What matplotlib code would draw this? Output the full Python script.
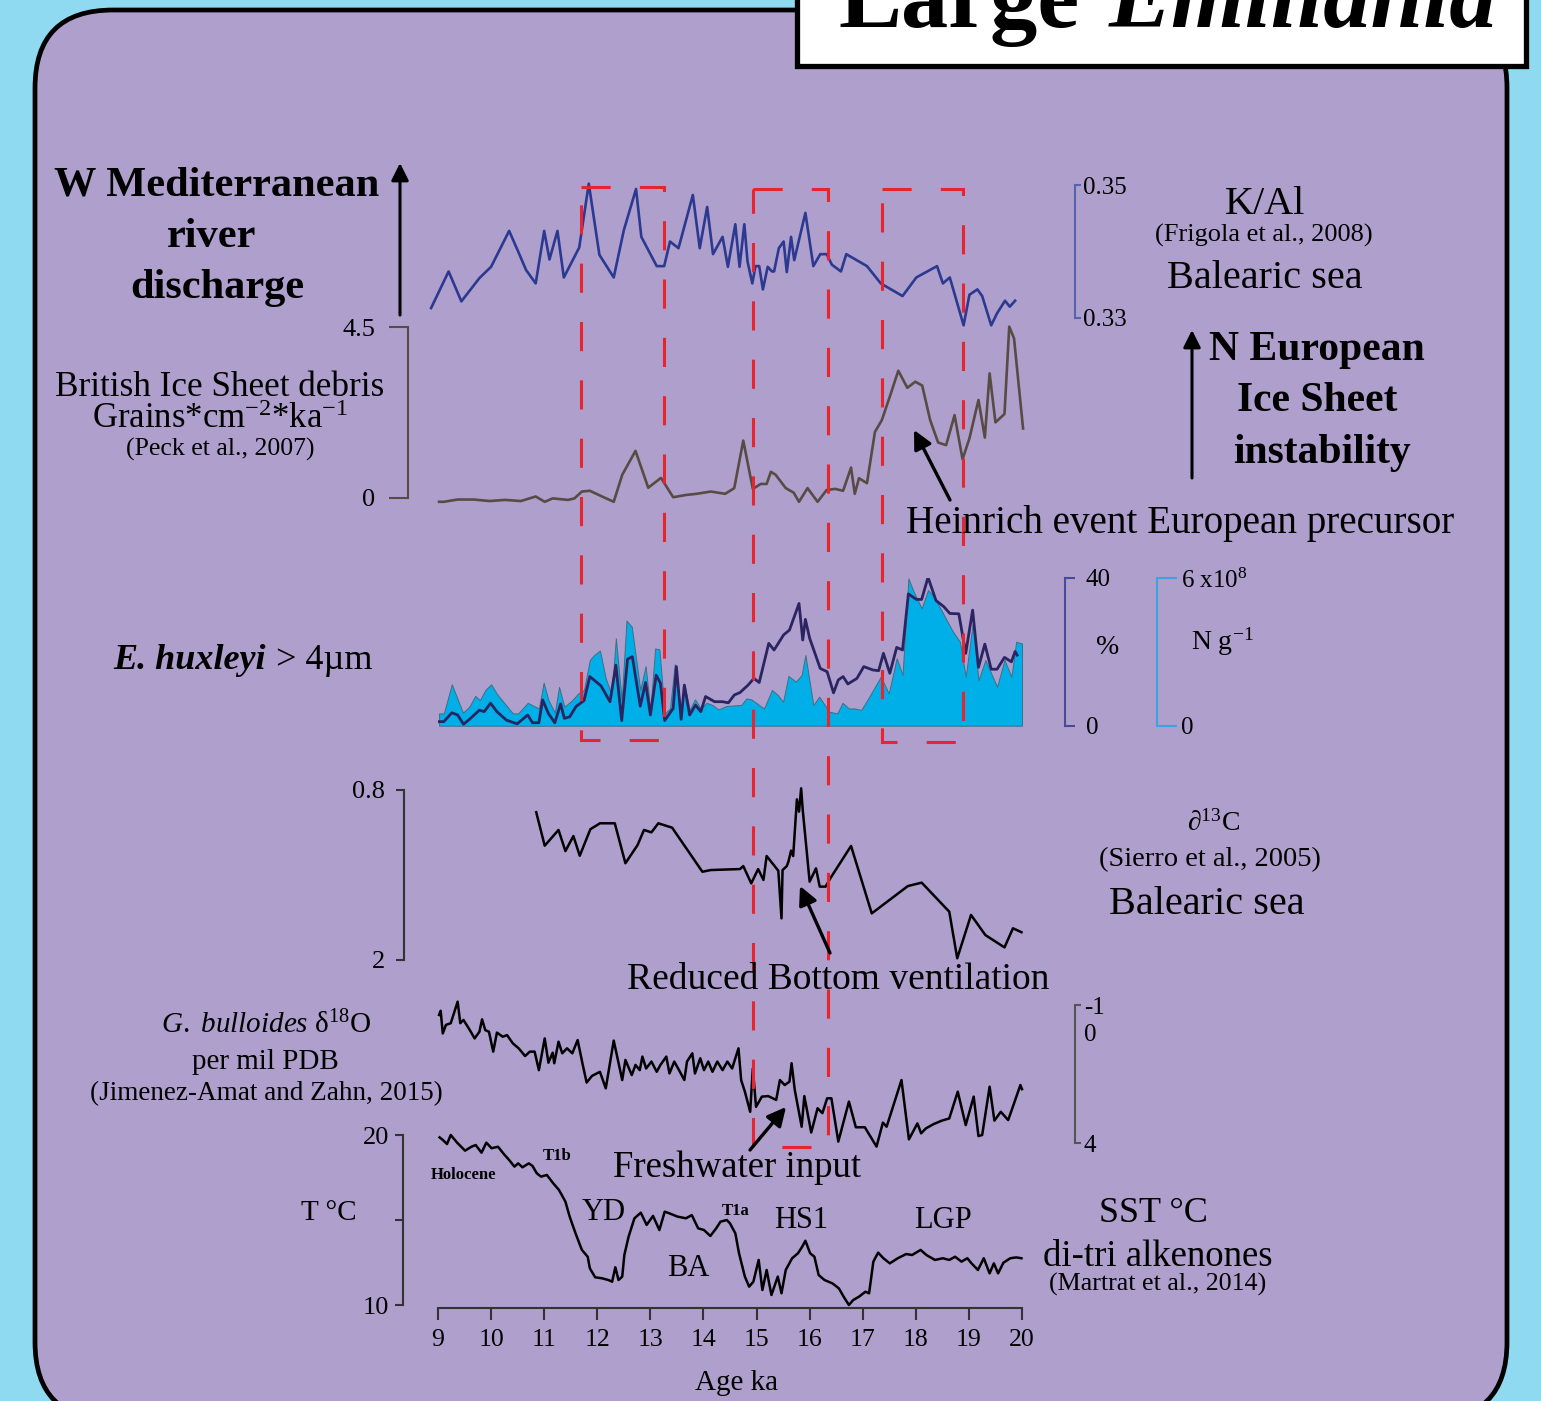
#!/usr/bin/env python3
import matplotlib
matplotlib.use("Agg")
import matplotlib.pyplot as plt
from matplotlib import transforms
from matplotlib.patches import FancyBboxPatch, Rectangle

plt.rcParams['font.family'] = 'Liberation Serif'
plt.rcParams['mathtext.fontset'] = 'custom'
plt.rcParams['mathtext.rm'] = 'Liberation Serif'
plt.rcParams['mathtext.it'] = 'Liberation Serif:italic'
plt.rcParams['mathtext.bf'] = 'Liberation Serif:bold'
plt.rcParams['lines.scale_dashes'] = False

# K/Al (Frigola et al., 2008)
kal_age = [8.87, 9.20, 9.44, 9.78, 10.00, 10.34, 10.51, 10.66, 10.84, 11.00, 11.10, 11.25, 11.37, 11.57,
           11.66, 11.84, 12.04, 12.31, 12.50, 12.73, 12.83, 13.12, 13.26, 13.37, 13.53, 13.80, 13.93, 14.07,
           14.18, 14.36, 14.46, 14.60, 14.68, 14.77, 14.83, 14.92, 14.98, 15.05, 15.12, 15.21, 15.29, 15.33,
           15.42, 15.51, 15.57, 15.65, 15.71, 15.92, 16.07, 16.20, 16.32, 16.42, 16.59, 16.69, 17.08, 17.34,
           17.75, 18.01, 18.40, 18.51, 18.64, 18.90, 19.01, 19.16, 19.25, 19.42, 19.53, 19.68, 19.77, 19.87]
kal_val = [0.3315, 0.3370, 0.3325, 0.3360, 0.3377, 0.3431, 0.3400, 0.3372, 0.3352, 0.3431, 0.3388, 0.3431,
           0.3361, 0.3392, 0.3406, 0.3502, 0.3395, 0.3361, 0.3432, 0.3494, 0.3422, 0.3378, 0.3378, 0.3415,
           0.3405, 0.3485, 0.3405, 0.3467, 0.3396, 0.3422, 0.3377, 0.3441, 0.3377, 0.3441, 0.3385, 0.3352,
           0.3378, 0.3378, 0.3343, 0.3377, 0.3370, 0.3370, 0.3405, 0.3415, 0.3369, 0.3422, 0.3387, 0.3458,
           0.3378, 0.3396, 0.3396, 0.3380, 0.3370, 0.3396, 0.3378, 0.3352, 0.3333, 0.3361, 0.3378, 0.3352,
           0.3361, 0.3289, 0.3335, 0.3343, 0.3333, 0.3289, 0.3307, 0.3326, 0.3317, 0.3326]

# British Ice Sheet debris (Peck et al., 2007)
bis_age = [9.02, 9.11, 9.37, 9.67, 9.97, 10.26, 10.56, 10.84, 11.01, 11.16, 11.45, 11.57, 11.71, 11.86,
           12.09, 12.31, 12.47, 12.72, 12.96, 13.20, 13.43, 13.67, 13.87, 14.14, 14.41, 14.58, 14.75, 14.93,
           15.08, 15.19, 15.27, 15.36, 15.55, 15.70, 15.80, 15.96, 16.15, 16.32, 16.48, 16.63, 16.78, 16.85,
           16.93, 17.08, 17.23, 17.36, 17.52, 17.67, 17.84, 17.99, 18.12, 18.27, 18.42, 18.57, 18.73, 18.88,
           19.01, 19.18, 19.30, 19.39, 19.50, 19.67, 19.76, 19.85, 20.02]
bis_val = [-0.10, -0.10, -0.04, -0.04, -0.08, -0.05, -0.08, 0.04, -0.10, -0.01, -0.05, -0.01, 0.17, 0.19,
           0.04, -0.10, 0.61, 1.24, 0.27, 0.53, 0.02, 0.08, 0.11, 0.17, 0.11, 0.26, 1.51, 0.24,
           0.37, 0.37, 0.69, 0.61, 0.26, 0.14, -0.10, 0.26, -0.10, 0.21, 0.24, 0.19, 0.80, 0.11,
           0.52, 0.39, 1.74, 2.05, 2.71, 3.35, 2.90, 3.06, 2.96, 2.05, 1.46, 1.39, 2.18, 1.02,
           1.57, 2.58, 1.59, 3.28, 1.99, 2.21, 4.51, 4.20, 1.83]

# E. huxleyi > 4 um, percent
hux_pct_age = [9.02, 9.11, 9.26, 9.37, 9.48, 9.59, 9.78, 9.87, 9.99, 10.11, 10.29, 10.49, 10.69, 10.78,
               10.90, 10.97, 11.08, 11.20, 11.31, 11.38, 11.48, 11.60, 11.75, 11.86, 12.07, 12.24, 12.35,
               12.46, 12.57, 12.66, 12.81, 12.91, 13.00, 13.11, 13.19, 13.27, 13.43, 13.49, 13.58, 13.64,
               13.74, 13.85, 13.95, 14.04, 14.21, 14.36, 14.47, 14.58, 14.69, 14.84, 14.95, 15.05, 15.23,
               15.33, 15.51, 15.62, 15.80, 15.87, 15.92, 16.00, 16.20, 16.33, 16.45, 16.54, 16.63, 16.72,
               16.89, 17.02, 17.19, 17.30, 17.39, 17.51, 17.64, 17.75, 17.86, 18.01, 18.11, 18.23, 18.38,
               18.53, 18.64, 18.81, 18.94, 19.07, 19.18, 19.30, 19.42, 19.53, 19.67, 19.80, 19.87, 19.91]
hux_pct = [1.1, 1.1, 3.5, 2.9, 0.4, 1.7, 4.2, 3.8, 6.1, 3.8, 1.5, 0.5, 2.9, 0.8,
           0.8, 7.0, 3.3, 0.8, 5.9, 2.0, 2.4, 5.2, 6.8, 13.3, 10.8, 6.5, 16.4,
           1.4, 18.0, 18.7, 5.3, 11.7, 2.9, 13.7, 11.5, 1.4, 4.7, 16.0, 1.7, 11.0,
           2.9, 5.6, 3.8, 7.9, 6.5, 6.5, 6.2, 8.3, 9.0, 11.0, 12.8, 11.7, 22.3,
           20.5, 24.6, 25.9, 33.1, 23.2, 28.8, 23.7, 15.5, 14.6, 8.9, 12.4, 13.3, 11.3,
           12.8, 16.0, 15.1, 14.9, 19.6, 14.2, 21.2, 20.5, 35.7, 34.2, 34.2, 40.2, 33.9,
           32.2, 30.4, 30.3, 19.6, 31.3, 15.8, 22.1, 15.3, 15.3, 18.5, 17.3, 20.1, 19.1]

# E. huxleyi > 4 um, absolute abundance (x10^8 N/g)
hux_n_age = [9.02, 9.11, 9.26, 9.47, 9.59, 9.70, 9.79, 9.89, 10.00, 10.11, 10.41, 10.51, 10.69, 10.90,
             10.99, 11.08, 11.20, 11.28, 11.38, 11.53, 11.64, 11.75, 11.86, 11.94, 12.05, 12.16, 12.27,
             12.35, 12.46, 12.55, 12.65, 12.81, 12.91, 13.00, 13.09, 13.17, 13.27, 13.37, 13.46, 13.58,
             13.64, 13.74, 13.84, 13.95, 14.06, 14.17, 14.28, 14.43, 14.62, 14.71, 14.81, 14.90, 15.14,
             15.29, 15.40, 15.50, 15.60, 15.74, 15.85, 15.92, 16.07, 16.18, 16.37, 16.52, 16.62, 16.74,
             16.85, 16.97, 17.08, 17.23, 17.34, 17.49, 17.64, 17.75, 17.86, 17.96, 18.11, 18.23, 18.34,
             18.48, 18.68, 18.83, 18.94, 19.07, 19.18, 19.31, 19.53, 19.67, 19.80, 19.89, 20.00]
hux_n = [0.50, 0.50, 1.68, 0.53, 0.77, 1.21, 1.04, 1.45, 1.68, 1.29, 0.50, 0.50, 0.93, 0.70,
         1.75, 1.04, 0.53, 1.58, 0.77, 1.04, 1.31, 1.45, 2.67, 2.87, 3.05, 1.92, 1.25,
         3.55, 1.04, 4.27, 4.02, 1.45, 2.42, 0.64, 3.14, 3.10, 0.50, 0.70, 2.50, 0.57,
         1.69, 0.64, 1.07, 0.70, 0.93, 0.84, 0.66, 0.80, 0.83, 0.84, 1.11, 1.07, 0.70,
         1.45, 1.25, 0.97, 2.02, 1.79, 2.06, 2.87, 0.84, 1.18, 0.57, 0.50, 0.93, 0.70,
         0.70, 0.64, 1.02, 1.58, 1.99, 1.31, 2.74, 2.06, 5.98, 5.44, 4.77, 5.51, 5.24,
         4.70, 3.89, 3.41, 1.99, 4.13, 1.85, 2.67, 1.58, 2.67, 1.99, 3.41, 3.34]

# d13C Balearic sea (Sierro et al., 2005)
d13c_age = [10.85, 11.01, 11.27, 11.40, 11.55, 11.67, 11.87, 12.05, 12.33, 12.53, 12.76, 12.88, 13.02,
            13.15, 13.41, 13.98, 14.14, 14.69, 14.75, 14.90, 15.03, 15.13, 15.19, 15.41, 15.47, 15.49,
            15.57, 15.60, 15.65, 15.69, 15.76, 15.80, 15.84, 15.87, 16.00, 16.12, 16.19, 16.30, 16.39,
            16.78, 17.17, 17.85, 18.11, 18.63, 18.78, 19.04, 19.31, 19.67, 19.83, 19.99]
d13c_val = [0.957, 1.193, 1.082, 1.231, 1.125, 1.264, 1.077, 1.035, 1.035, 1.317, 1.188, 1.082, 1.099,
            1.035, 1.066, 1.377, 1.365, 1.358, 1.337, 1.459, 1.358, 1.435, 1.266, 1.370, 1.706, 1.365,
            1.337, 1.306, 1.228, 1.266, 0.866, 0.953, 0.788, 0.941, 1.447, 1.353, 1.482, 1.482, 1.423,
            1.195, 1.671, 1.478, 1.454, 1.659, 1.988, 1.682, 1.824, 1.911, 1.776, 1.804]

# G. bulloides d18O (Jimenez-Amat and Zahn, 2015)
d18o_age = [9.02, 9.05, 9.09, 9.15, 9.24, 9.37, 9.42, 9.48, 9.59, 9.69, 9.78, 9.83, 9.89, 9.96, 10.04,
            10.11, 10.22, 10.30, 10.41, 10.52, 10.64, 10.73, 10.82, 10.90, 11.01, 11.08, 11.16, 11.19,
            11.27, 11.34, 11.43, 11.53, 11.63, 11.72, 11.80, 11.90, 12.05, 12.16, 12.31, 12.47, 12.53,
            12.65, 12.72, 12.80, 12.85, 12.92, 13.02, 13.12, 13.19, 13.30, 13.36, 13.45, 13.54, 13.64,
            13.69, 13.79, 13.84, 13.94, 14.01, 14.09, 14.17, 14.26, 14.36, 14.45, 14.54, 14.66, 14.71,
            14.78, 14.88, 14.93, 14.99, 15.10, 15.22, 15.37, 15.44, 15.53, 15.62, 15.66, 15.72, 15.85,
            15.90, 16.03, 16.15, 16.24, 16.33, 16.41, 16.54, 16.74, 16.87, 17.04, 17.26, 17.38, 17.45,
            17.73, 17.87, 18.03, 18.10, 18.19, 18.34, 18.49, 18.63, 18.79, 18.94, 19.09, 19.18, 19.25,
            19.39, 19.48, 19.60, 19.74, 19.97, 20.00]
d18o_val = [-0.64, -0.79, 0.03, -0.28, -0.34, -1.12, -0.34, -0.46, -0.12, 0.21, -0.03, -0.48, -0.09, -0.03,
            0.69, 0.00, 0.15, 0.09, 0.39, 0.57, 0.85, 0.69, 0.69, 1.36, 0.21, 1.09, 0.73, 1.11,
            0.33, 0.75, 0.57, 0.75, 0.27, 1.11, 1.81, 1.57, 1.42, 2.02, 0.29, 1.72, 0.99,
            1.54, 1.17, 1.36, 0.87, 1.30, 1.05, 1.42, 1.17, 0.87, 1.48, 1.05, 1.36, 1.72,
            1.05, 0.75, 1.48, 0.93, 1.36, 1.05, 1.42, 1.05, 1.36, 1.05, 1.30, 0.57, 1.72,
            2.14, 2.87, 1.30, 2.69, 2.32, 2.30, 2.44, 1.72, 1.90, 1.78, 1.11, 2.08, 3.41,
            2.30, 3.62, 2.74, 2.92, 2.38, 2.38, 3.95, 2.50, 3.43, 3.43, 4.13, 3.26, 3.41,
            1.72, 3.87, 3.29, 3.65, 3.47, 3.31, 3.19, 3.11, 2.14, 3.35, 2.32, 3.75, 3.71,
            1.96, 3.19, 2.87, 3.17, 1.90, 2.05]

# SST di-tri alkenones (Martrat et al., 2014)
sst_age = [9.03, 9.09, 9.17, 9.24, 9.36, 9.51, 9.63, 9.71, 9.82, 9.91, 10.01, 10.13, 10.24, 10.34, 10.44,
           10.51, 10.59, 10.71, 10.78, 10.86, 10.94, 11.05, 11.17, 11.28, 11.40, 11.48, 11.59, 11.71, 11.82,
           11.86, 11.96, 12.09, 12.21, 12.28, 12.34, 12.40, 12.47, 12.51, 12.59, 12.70, 12.82, 12.93, 13.05,
           13.17, 13.27, 13.36, 13.51, 13.67, 13.78, 13.90, 14.01, 14.13, 14.24, 14.32, 14.44, 14.50, 14.60,
           14.67, 14.78, 14.86, 14.94, 15.04, 15.11, 15.19, 15.28, 15.40, 15.47, 15.55, 15.67, 15.78, 15.86,
           15.92, 16.01, 16.09, 16.17, 16.28, 16.43, 16.55, 16.66, 16.74, 16.82, 16.93, 17.05, 17.12, 17.20,
           17.29, 17.39, 17.51, 17.66, 17.82, 17.93, 18.09, 18.20, 18.36, 18.51, 18.63, 18.74, 18.86, 18.97,
           19.05, 19.17, 19.28, 19.39, 19.47, 19.55, 19.65, 19.78, 19.89, 19.99]
sst_val = [19.86, 19.71, 19.47, 20.00, 19.55, 19.08, 19.31, 19.41, 18.96, 19.55, 19.22, 19.31, 18.88, 18.53,
           18.14, 18.33, 18.10, 18.33, 18.18, 17.75, 17.55, 17.65, 17.16, 16.76, 16.08, 15.20, 14.22, 13.24,
           12.84, 12.16, 11.63, 11.57, 11.47, 11.37, 12.22, 11.47, 11.67, 12.94, 14.02, 15.10, 15.43, 14.71,
           15.24, 14.41, 15.49, 15.39, 15.20, 15.10, 15.29, 14.51, 14.41, 14.06, 14.51, 14.90, 15.00, 14.80,
           14.22, 13.04, 11.67, 11.08, 11.37, 12.65, 10.88, 12.06, 10.59, 11.67, 10.69, 12.06, 12.75, 13.04,
           13.43, 13.78, 13.04, 12.84, 11.76, 11.47, 11.27, 10.98, 10.39, 10.00, 10.29, 10.49, 10.78, 10.69,
           12.55, 13.08, 12.75, 12.45, 12.75, 13.00, 12.94, 13.24, 12.94, 12.65, 12.75, 12.65, 12.84, 12.55,
           12.75, 12.45, 12.06, 12.75, 11.86, 12.45, 11.86, 12.49, 12.75, 12.80, 12.75]

# highlighted intervals (ka)
event_windows = [(11.70, 13.25), (14.93, 16.35), (17.36, 18.89)]
age_ticks = list(range(9, 21))

W, H = 1541, 1401
X0, X1 = 438, 1022
PT = 0.72  # points per pixel at 100 dpi

fig = plt.figure(figsize=(W / 100, H / 100), dpi=100)
fig.patch.set_facecolor('#8fd9f1')

canvas = fig.add_axes([0, 0, 1, 1], zorder=-1)
canvas.set_xlim(0, W)
canvas.set_ylim(H, 0)
canvas.axis('off')
canvas.add_patch(FancyBboxPatch((35, 10), 1472, 1410, boxstyle="round,pad=0,rounding_size=78",
                                facecolor='#af9fcc', edgecolor='black', lw=3.4))


def panel(top, bottom, lo, hi):
    ax = fig.add_axes([X0 / W, 1 - bottom / H, (X1 - X0) / W, (bottom - top) / H])
    ax.set_xlim(9, 20)
    ax.set_ylim(lo, hi)
    ax.patch.set_alpha(0)
    for s in ax.spines.values():
        s.set_visible(False)
    ax.set_xticks([])
    ax.set_yticks([])
    return ax


def bracket(ax, side, offset, ticks, labels, color, ticklen, pad, fs):
    sp = ax.spines[side]
    sp.set_visible(True)
    sp.set_position(('outward', offset * PT))
    sp.set_color(color)
    sp.set_linewidth(1.5)
    ax.yaxis.set_ticks_position(side)
    ax.set_yticks(ticks, labels)
    ax.tick_params(axis='y', which='major', direction='out', length=ticklen * PT, width=1.5,
                   color=color, labelsize=fs, pad=pad * PT)


# K/Al
ax_kal = panel(185, 318, 0.33, 0.35)
ax_kal.plot(kal_age, kal_val, color='#2b3990', lw=1.9, clip_on=False)
bracket(ax_kal, 'right', 53, [0.33, 0.35], ['0.33', '0.35'], '#5563ad', 6, 2, 18)

# British ice sheet debris
ax_bis = panel(327, 498, 0, 4.5)
ax_bis.plot(bis_age, bis_val, color='#584b43', lw=1.9, clip_on=False)
bracket(ax_bis, 'left', 30, [0, 4.5], ['0', '4.5'], '#584b43', 19, 14, 19)

# E. huxleyi
ax_hux = panel(578, 725.7, 0, 40)
ax_hux.set_zorder(0.5)
ax_hn = ax_hux.twinx()
ax_hn.set_zorder(0.2)
ax_hn.set_ylim(0, 6)
ax_hn.patch.set_alpha(0)
for s in ax_hn.spines.values():
    s.set_visible(False)
ax_hn.fill_between(hux_n_age, 0, hux_n, facecolor='#00aee8', edgecolor='#3f6f84', lw=0.7)
ax_hux.plot(hux_pct_age, hux_pct, color='#2a2462', lw=2.0)
bracket(ax_hux, 'right', 43, [0, 40], ['0', '40'], '#4a4a9c', 10, 11, 18)
bracket(ax_hn, 'right', 135, [0, 6], ['0', '6 x10$^{8}$'], '#3fa2dc', 20, 4, 18)

# d13C
ax_c = panel(790, 960, 2.0, 0.8)
ax_c.plot(d13c_age, d13c_val, color='black', lw=1.8, clip_on=False)
bracket(ax_c, 'left', 34, [0.8, 2.0], ['0.8', '2'], '#333333', 8, 11, 19)

# d18O
ax_o = panel(1005, 1143, 4, -1)
ax_o.plot(d18o_age, d18o_val, color='black', lw=1.8, clip_on=False)
bracket(ax_o, 'right', 53, [-1, 4], ['-1', '4'], '#555555', 6, 3, 18)
ax_o.set_yticks([0], ['0'], minor=True)
ax_o.tick_params(axis='y', which='minor', length=0, labelsize=18, pad=9 * PT)

# SST
ax_s = panel(1135, 1305, 10, 20)
ax_s.plot(sst_age, sst_val, color='black', lw=1.8, clip_on=False)
bracket(ax_s, 'left', 35, [10, 15, 20], ['10', '', '20'], '#333333', 8, 6, 19)
sb = ax_s.spines['bottom']
sb.set_visible(True)
sb.set_position(('outward', 3 * PT))
sb.set_color('#333333')
sb.set_linewidth(1.5)
ax_s.set_xticks(age_ticks, [str(t) for t in age_ticks])
ax_s.tick_params(axis='x', direction='out', length=12 * PT, width=1.5, color='#333333',
                 labelsize=18.5, pad=9 * PT)

# overlay: boxes, arrows, texts
top = fig.add_axes([0, 0, 1, 1], zorder=2)
top.set_xlim(0, W)
top.set_ylim(H, 0)
top.axis('off')
top.patch.set_alpha(0)

box_tr = transforms.blended_transform_factory(ax_s.transData, top.transData)
box_rows = [(187, 740), (189, 1147), (189, 742)]
for (a0, a1), (y0, y1) in zip(event_windows, box_rows):
    top.add_patch(Rectangle((a0, y0), a1 - a0, y1 - y0, transform=box_tr, fill=False,
                            edgecolor='#e8252e', lw=2.2, linestyle=(0, (21, 21))))

# title box
top.add_patch(Rectangle((797, -20), 729, 86, facecolor='white', edgecolor='black', lw=3.8))
top.text(838, 27, 'Large', fontsize=68, fontweight='bold', ha='left', va='baseline')
top.text(1497, 27, 'Emiliania', fontsize=68, fontweight='bold', style='italic', ha='right',
         va='baseline')


def arrow(x0, y0, x1, y1, lw=2.2, ms=26):
    top.annotate('', xy=(x1, y1), xytext=(x0, y0),
                 arrowprops=dict(arrowstyle='-|>', color='black', lw=lw, mutation_scale=ms,
                                 shrinkA=0, shrinkB=0))


arrow(400, 315, 400, 163)
arrow(1192, 478, 1192, 330)
arrow(950, 500, 914, 430, lw=2.4, ms=28)
arrow(830, 953, 800, 886, lw=2.4, ms=28)
arrow(750, 1150, 786, 1107, lw=2.4, ms=28)

texts = [
    ('W Mediterranean', 217, 186, 30.5, 'bold'),
    ('river', 212, 237, 30.5, 'bold'),
    ('discharge', 217, 288, 30.5, 'bold'),
    ('British Ice Sheet debris', 220, 387, 25.3, 'normal'),
    (r'Grains*cm$^{\mathregular{-2}}$*ka$^{\mathregular{-1}}$', 220, 420, 25, 'normal'),
    ('(Peck et al., 2007)', 220, 449, 18.5, 'normal'),
    (r'$\mathit{G.\ bulloides}$ δ$^{\mathregular{18}}$O', 266, 1025, 21, 'normal'),
    ('per mil PDB', 265, 1062, 21, 'normal'),
    ('(Jimenez-Amat and Zahn, 2015)', 266, 1094, 19.5, 'normal'),
    ('T °C', 329, 1213, 21, 'normal'),
    ('K/Al', 1265, 205, 29, 'normal'),
    ('(Frigola et al., 2008)', 1264, 235, 19, 'normal'),
    ('Balearic sea', 1265, 278, 29, 'normal'),
    ('N European', 1317, 350, 30, 'bold'),
    ('Ice Sheet', 1317, 401, 30, 'bold'),
    ('instability', 1322, 453, 30, 'bold'),
    ('Heinrich event European precursor', 1180, 523, 28.2, 'normal'),
    ('%', 1108, 648, 20, 'normal'),
    (r'N g$^{\mathregular{-1}}$', 1222, 642, 20, 'normal'),
    (r'∂$^{\mathregular{13}}$C', 1213, 823, 20, 'normal'),
    ('(Sierro et al., 2005)', 1210, 860, 20.5, 'normal'),
    ('Balearic sea', 1207, 905, 29, 'normal'),
    ('Reduced Bottom ventilation', 838, 980, 27, 'normal'),
    ('Freshwater input', 737, 1168, 26.5, 'normal'),
    ('SST °C', 1153, 1213, 26, 'normal'),
    ('di-tri alkenones', 1158, 1257, 26.5, 'normal'),
    ('(Martrat et al., 2014)', 1158, 1284, 18.7, 'normal'),
    ('Holocene', 464, 1175, 12, 'bold'),
    ('T1b', 557, 1156, 12, 'bold'),
    ('T1a', 736, 1211, 12, 'bold'),
    ('YD', 604, 1212, 22, 'normal'),
    ('BA', 688, 1268, 22, 'normal'),
    ('HS1', 801, 1220, 22, 'normal'),
    ('LGP', 943, 1220, 22, 'normal'),
    ('Age ka', 737, 1383, 21, 'normal'),
]
for s, x, y, fs, fw in texts:
    top.text(x, y, s, fontsize=fs, fontweight=fw, ha='center', va='center')

top.text(113, 669, 'E. huxleyi', fontsize=26, fontweight='bold', style='italic', ha='left',
         va='baseline')
top.text(276, 669, '> 4µm', fontsize=26, ha='left', va='baseline')

fig.savefig('out.png', dpi=100, facecolor=fig.get_facecolor())
